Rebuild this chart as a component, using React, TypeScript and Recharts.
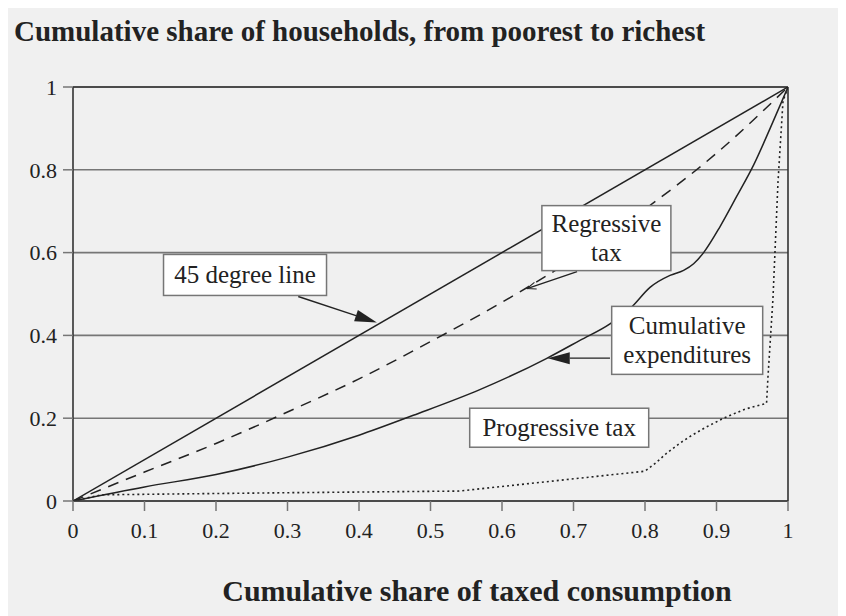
import {
  LineChart,
  Line,
  XAxis,
  YAxis,
  CartesianGrid,
  ReferenceLine,
  ReferenceDot,
} from "recharts";

const FONT = '"Liberation Serif", "DejaVu Serif", serif';
const INK = "#222";
const GRID = "#767676";

const xTicks = [0, 0.1, 0.2, 0.3, 0.4, 0.5, 0.6, 0.7, 0.8, 0.9, 1];
const yTicks = [0, 0.2, 0.4, 0.6, 0.8, 1];

// [share of taxed consumption, share of households]
const degreeLine = [
  [0, 0],
  [1, 1],
];

const regressiveTax = [
  [0, 0],
  [0.1, 0.07],
  [0.2, 0.139],
  [0.3, 0.215],
  [0.4, 0.295],
  [0.5, 0.385],
  [0.6, 0.48],
  [0.7, 0.585],
  [0.8, 0.705],
  [0.9, 0.84],
  [1, 1],
];

const cumulativeExpenditures = [
  [0, 0],
  [0.1, 0.034],
  [0.2, 0.064],
  [0.3, 0.106],
  [0.4, 0.159],
  [0.476, 0.207],
  [0.569, 0.269],
  [0.662, 0.344],
  [0.709, 0.388],
  [0.751, 0.428],
  [0.781, 0.468],
  [0.807, 0.516],
  [0.835, 0.545],
  [0.854, 0.557],
  [0.868, 0.573],
  [0.882, 0.6],
  [0.905, 0.663],
  [0.928, 0.735],
  [0.952, 0.812],
  [0.975, 0.9],
  [1, 1],
];

const progressiveTax = [
  [0, 0],
  [0.04, 0.015],
  [0.3, 0.02],
  [0.54, 0.024],
  [0.8, 0.072],
  [0.815, 0.092],
  [0.83, 0.115],
  [0.849, 0.14],
  [0.865, 0.158],
  [0.885, 0.178],
  [0.91, 0.2],
  [0.94, 0.222],
  [0.97, 0.236],
  [0.972, 0.3],
  [0.979, 0.49],
  [0.986, 0.77],
  [0.993, 0.966],
  [1, 1],
];

const toRows = (pts: number[][]) => pts.map(([x, y]) => ({ x, y }));

interface Note {
  x: number;
  y: number;
  lines: string[];
  w: number;
  h: number;
}

const notes: Note[] = [
  { x: 0.2406, y: 0.546, lines: ["45 degree line"], w: 163, h: 41 },
  { x: 0.746, y: 0.635, lines: ["Regressive", "tax"], w: 129, h: 65 },
  { x: 0.859, y: 0.388, lines: ["Cumulative", "expenditures"], w: 151, h: 68 },
  { x: 0.68, y: 0.177, lines: ["Progressive tax"], w: 179, h: 39 },
];

const arrows = [
  { from: { x: 0.315, y: 0.494 }, to: { x: 0.425, y: 0.431 }, filled: true },
  { from: { x: 0.705, y: 0.554 }, to: { x: 0.635, y: 0.513 }, filled: false },
  { from: { x: 0.751, y: 0.345 }, to: { x: 0.664, y: 0.345 }, filled: true },
];

function noteShape(note: Note) {
  return (props: any) => {
    const { cx, cy } = props;
    const { w, h, lines } = note;
    const baselines = lines.length === 1 ? [cy + 8] : [cy - 6, cy + 23];
    return (
      <g>
        <rect
          x={cx - w / 2}
          y={cy - h / 2}
          width={w}
          height={h}
          fill="#fff"
          stroke={GRID}
          strokeWidth={1.5}
        />
        {lines.map((t, i) => (
          <text
            key={t}
            x={cx}
            y={baselines[i]}
            textAnchor="middle"
            fontFamily={FONT}
            fontSize={25}
            fill={INK}
          >
            {t}
          </text>
        ))}
      </g>
    );
  };
}

function arrowShape(filled: boolean) {
  return (props: any) => {
    const { x1, y1, x2, y2 } = props;
    const ang = Math.atan2(y2 - y1, x2 - x1);
    const len = filled ? 22 : 9;
    const half = filled ? 6 : 3.5;
    const bx = x2 - len * Math.cos(ang);
    const by = y2 - len * Math.sin(ang);
    const px = -Math.sin(ang) * half;
    const py = Math.cos(ang) * half;
    return (
      <g>
        <line
          x1={x1}
          y1={y1}
          x2={filled ? bx : x2}
          y2={filled ? by : y2}
          stroke={INK}
          strokeWidth={1.4}
        />
        {filled ? (
          <polygon
            points={`${x2},${y2} ${bx + px},${by + py} ${bx - px},${by - py}`}
            fill={INK}
          />
        ) : (
          <polyline
            points={`${bx + px},${by + py} ${x2},${y2} ${bx - px},${by - py}`}
            fill="none"
            stroke={INK}
            strokeWidth={1.1}
          />
        )}
      </g>
    );
  };
}

export default function App() {
  return (
    <div
      style={{
        position: "relative",
        width: 838,
        height: 608,
        background: "#f0f0f0",
        fontFamily: FONT,
        color: INK,
      }}
    >
      <div
        style={{
          position: "absolute",
          left: 6,
          top: 7,
          fontSize: 29,
          fontWeight: 700,
          whiteSpace: "nowrap",
        }}
      >
        Cumulative share of households, from poorest to richest
      </div>
      <LineChart
        width={838}
        height={608}
        margin={{ top: 79, right: 58, bottom: 55, left: 5 }}
      >
        <CartesianGrid vertical={false} stroke={GRID} strokeWidth={1.6} />
        <XAxis
          type="number"
          dataKey="x"
          domain={[0, 1]}
          ticks={xTicks}
          interval={0}
          height={60}
          tickSize={10}
          tickMargin={11}
          axisLine={{ stroke: "#333", strokeWidth: 1.6 }}
          tickLine={{ stroke: GRID, strokeWidth: 1.5 }}
          tick={{ fontSize: 22, fill: INK, fontFamily: FONT }}
          allowDataOverflow
        />
        <YAxis
          type="number"
          domain={[0, 1]}
          ticks={yTicks}
          interval={0}
          width={60}
          tickSize={10}
          tickMargin={6}
          axisLine={{ stroke: "#333", strokeWidth: 1.6 }}
          tickLine={{ stroke: GRID, strokeWidth: 1.5 }}
          tick={{ fontSize: 22, fill: INK, fontFamily: FONT }}
          allowDataOverflow
        />
        <ReferenceLine y={1} stroke="#333" strokeWidth={1.6} />
        <ReferenceLine x={1} stroke="#333" strokeWidth={1.6} />

        <Line
          data={toRows(degreeLine)}
          dataKey="y"
          type="linear"
          stroke={INK}
          strokeWidth={1.5}
          dot={false}
          activeDot={false}
          isAnimationActive={false}
        />
        <Line
          data={toRows(regressiveTax)}
          dataKey="y"
          type="monotone"
          stroke={INK}
          strokeWidth={1.5}
          strokeDasharray="11 8"
          dot={false}
          activeDot={false}
          isAnimationActive={false}
        />
        <Line
          data={toRows(cumulativeExpenditures)}
          dataKey="y"
          type="monotone"
          stroke={INK}
          strokeWidth={1.5}
          dot={false}
          activeDot={false}
          isAnimationActive={false}
        />
        <Line
          data={toRows(progressiveTax)}
          dataKey="y"
          type="linear"
          stroke={INK}
          strokeWidth={1.6}
          strokeDasharray="2 3"
          dot={false}
          activeDot={false}
          isAnimationActive={false}
        />

        {arrows.map((a, i) => (
          <ReferenceLine
            key={`arrow-${i}`}
            segment={[a.from, a.to]}
            shape={arrowShape(a.filled)}
          />
        ))}
        {notes.map((n) => (
          <ReferenceDot
            key={n.lines.join(" ")}
            x={n.x}
            y={n.y}
            r={1}
            shape={noteShape(n)}
          />
        ))}
      </LineChart>
      <div
        style={{
          position: "absolute",
          left: 0,
          width: 938,
          top: 566,
          textAlign: "center",
          fontSize: 30,
          fontWeight: 700,
          whiteSpace: "nowrap",
        }}
      >
        Cumulative share of taxed consumption
      </div>
    </div>
  );
}
